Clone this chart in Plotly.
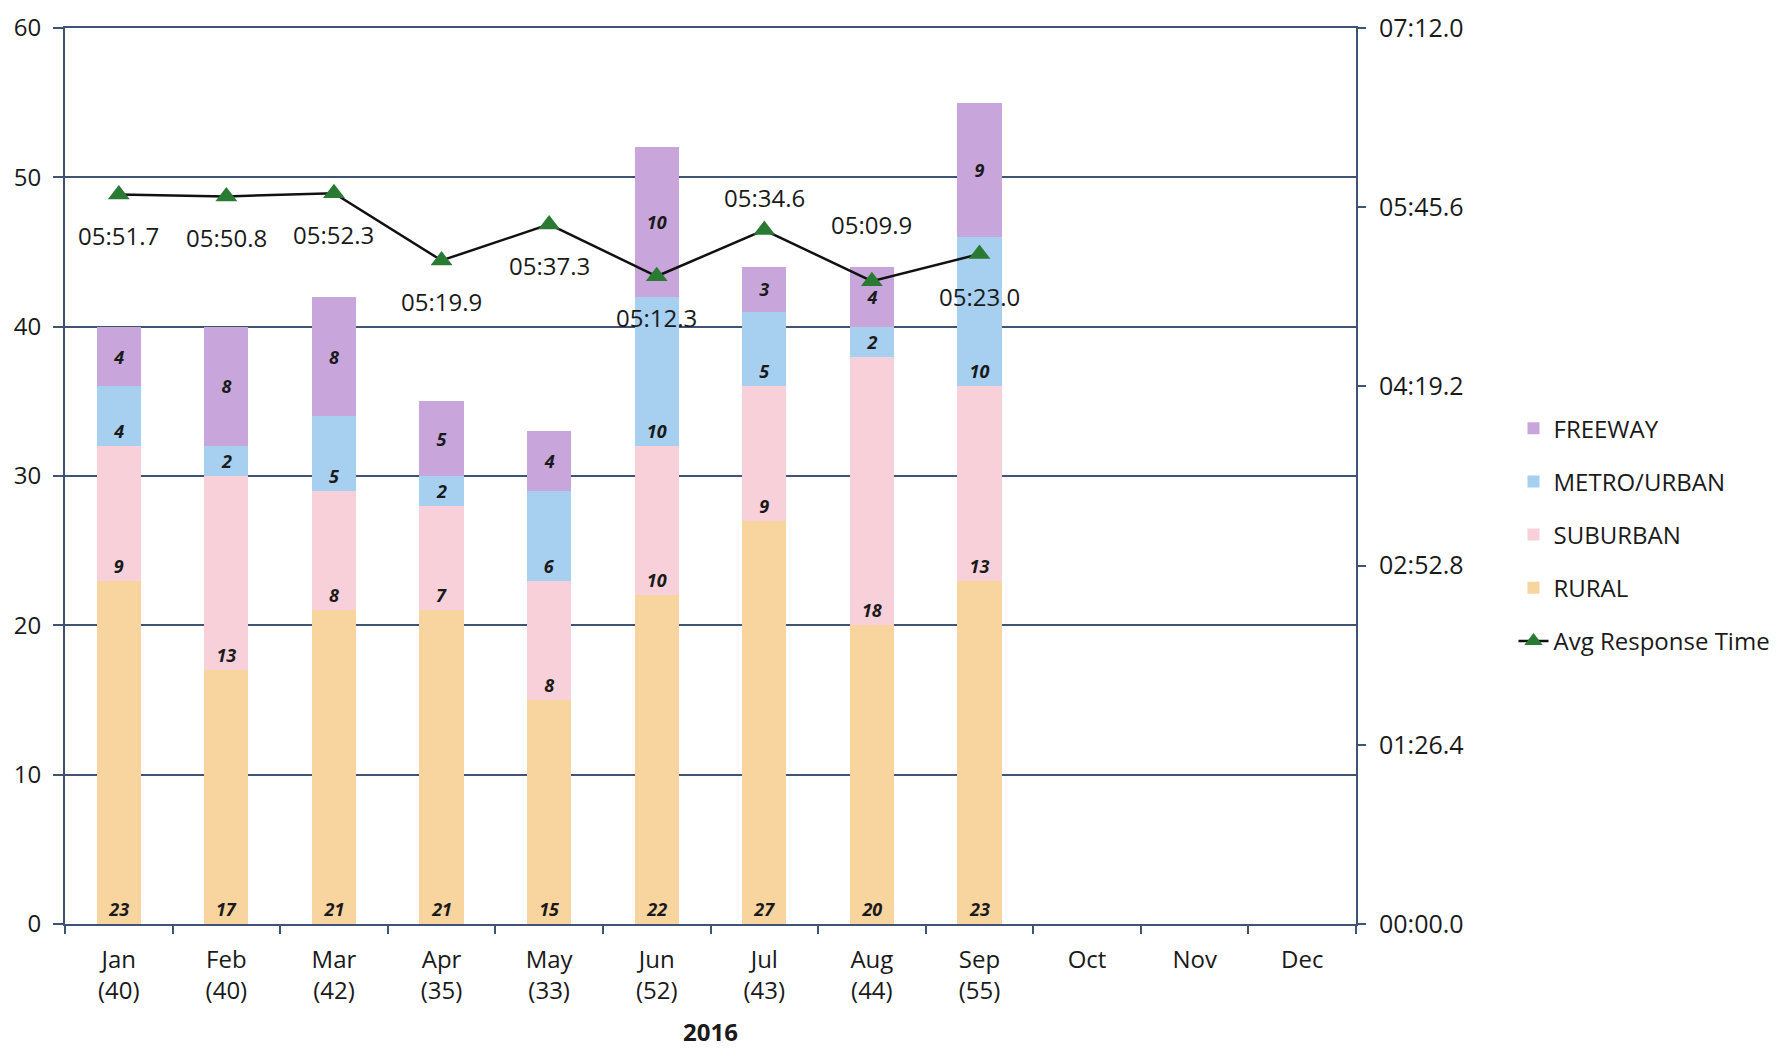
import plotly.graph_objects as go

months = ["Jan", "Feb", "Mar", "Apr", "May", "Jun", "Jul", "Aug", "Sep", "Oct", "Nov", "Dec"]
total_labels = ["40", "40", "42", "35", "33", "52", "43", "44", "55"]
rural = [23, 17, 21, 21, 15, 22, 27, 20, 23]
suburban = [9, 13, 8, 7, 8, 10, 9, 18, 13]
metro = [4, 2, 5, 2, 6, 10, 5, 2, 10]
freeway = [4, 8, 8, 5, 4, 10, 3, 4, 9]
resp_labels = ["05:51.7", "05:50.8", "05:52.3", "05:19.9", "05:37.3", "05:12.3", "05:34.6", "05:09.9", "05:23.0"]
y_tick_values = [0, 10, 20, 30, 40, 50, 60]
y2_tick_values = [0, 86.4, 172.8, 259.2, 345.6, 432]
y2_tick_labels = ["00:00.0", "01:26.4", "02:52.8", "04:19.2", "05:45.6", "07:12.0"]


def to_sec(s):
    m, rest = s.split(":")
    return int(m) * 60 + float(rest)


resp_sec = [to_sec(s) for s in resp_labels]
cats = [f"{m}<br>({t})" for m, t in zip(months, total_labels)] + months[len(total_labels):]
xcats = cats[:len(rural)]

# styles
GRID = "#3f5375"
FONT = "Open Sans"
label_shift = [-41, -41, -41, -41, -41, -41, 33, 57, -42]

fig = go.Figure()
bar_font = dict(family=FONT, size=18, color="#1a1a1a", weight="bold", style="italic")
series = [
    ("RURAL", rural, "#f8d49f", "start", 4),
    ("SUBURBAN", suburban, "#f7d0da", "start", 3),
    ("METRO/URBAN", metro, "#a6cff0", "start", 2),
    ("FREEWAY", freeway, "#c8a6dc", "middle", 1),
]
for name, vals, col, anchor, rank in series:
    fig.add_trace(go.Bar(
        x=xcats, y=vals, name=name, marker=dict(color=col, line=dict(width=0)),
        text=[str(v) for v in vals], textposition="inside", insidetextanchor=anchor,
        textangle=0, insidetextfont=bar_font, legendrank=rank, legendgroup=name,
        constraintext="none",
    ))

fig.add_trace(go.Scatter(
    x=xcats, y=resp_sec, name="Avg Response Time", yaxis="y2", mode="lines+markers",
    line=dict(color="#111111", width=2.5),
    marker=dict(symbol="triangle-up", size=19, color="#2a7a34", line=dict(width=0)),
    legendrank=5, legendgroup="line",
))

for x, y, t, dy in zip(xcats, resp_sec, resp_labels, label_shift):
    fig.add_annotation(x=x, y=y, yref="y2", xref="x", text=t, showarrow=False,
                       yshift=dy, font=dict(family=FONT, size=24, color="#1a1a1a"))

fig.update_layout(
    width=1779, height=1040,
    margin=dict(l=57, r=425, t=20, b=124),
    paper_bgcolor="white", plot_bgcolor="white",
    barmode="stack", bargap=0.59,
    font=dict(family=FONT, size=24, color="#1a1a1a"),
    showlegend=True,
    legend=dict(x=1.122, xanchor="left", y=0.578, yanchor="top",
                font=dict(family=FONT, size=24, color="#1a1a1a"),
                tracegroupgap=19, bgcolor="rgba(0,0,0,0)"),
    xaxis=dict(
        categoryorder="array", categoryarray=cats, range=[-0.5, 11.5],
        tickvals=cats, ticktext=cats, automargin=False,
        tickson="boundaries", ticks="outside", ticklen=8, tickcolor=GRID, tickwidth=2,
        showline=True, mirror=True, linecolor=GRID, linewidth=2, showgrid=False,
        tickfont=dict(size=24), ticklabelstandoff=13,
        title=dict(text="<b>2016</b>", font=dict(size=24), standoff=22),
    ),
    yaxis=dict(
        range=[0, 60], tickvals=y_tick_values, automargin=False,
        showgrid=True, gridcolor=GRID, gridwidth=2,
        showline=True, linecolor=GRID, linewidth=2,
        ticks="outside", ticklen=10, tickcolor=GRID, tickwidth=2,
        tickfont=dict(size=24), zeroline=False,
        ticklabeloverflow="allow", ticklabelstandoff=7,
    ),
    yaxis2=dict(
        overlaying="y", side="right", range=[0, 432], automargin=False,
        tickvals=y2_tick_values, ticktext=y2_tick_labels,
        showgrid=False, showline=True, linecolor=GRID, linewidth=2,
        ticks="outside", ticklen=8, tickcolor=GRID, tickwidth=2,
        tickfont=dict(size=25), zeroline=False,
        ticklabeloverflow="allow", ticklabelstandoff=8,
    ),
)

fig.write_html("out.html")
